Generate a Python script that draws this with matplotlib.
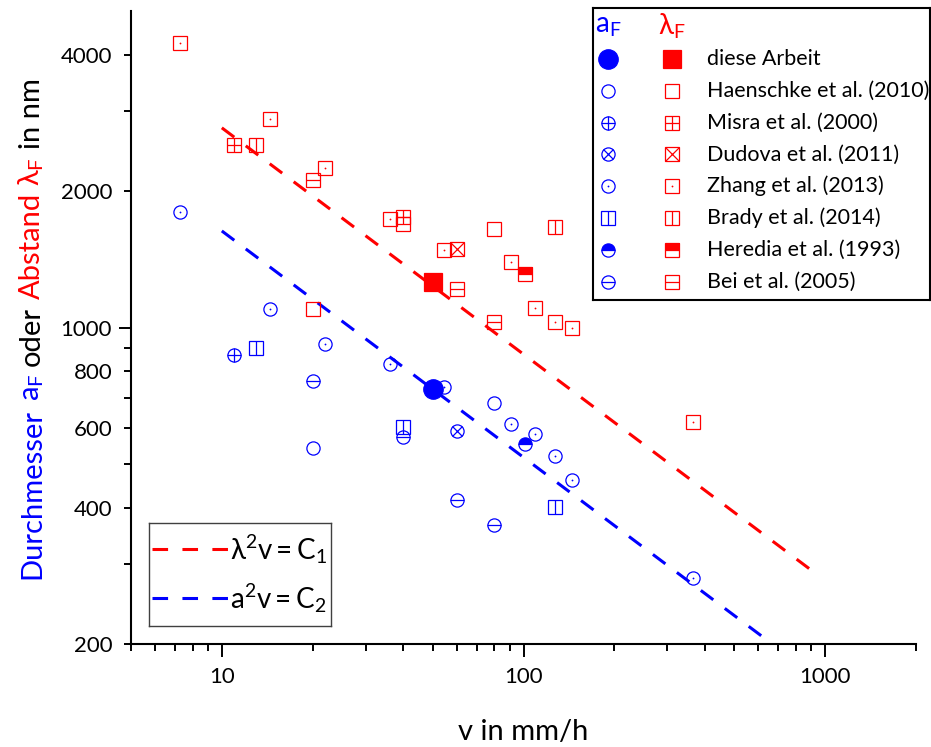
import numpy as np
import matplotlib
matplotlib.use("Agg")
import matplotlib.pyplot as plt
from matplotlib.ticker import FixedLocator, FuncFormatter, NullFormatter
from matplotlib.transforms import IdentityTransform

plt.rcParams["font.family"] = ["Lato", "DejaVu Sans"]
plt.rcParams["mathtext.fontset"] = "custom"
plt.rcParams["mathtext.rm"] = "Lato"
plt.rcParams["mathtext.it"] = "Lato:italic"
plt.rcParams["mathtext.bf"] = "Lato:bold"

BLUE = "#0000ff"
RED = "#ff0000"

# fibre diameter a_F (nm) and spacing lambda_F (nm) over growth rate v (mm/h)
v_a_this, a_this = [50], [730]
v_l_this, l_this = [50], [1260]

v_a_haenschke, a_haenschke = [20, 80], [541, 680]
v_l_haenschke, l_haenschke = [20, 40, 80], [1100, 1690, 1650]

v_a_misra, a_misra = [11], [870]
v_l_misra, l_misra = [11, 40], [2535, 1750]

v_a_dudova, a_dudova = [60], [590]
v_l_dudova, l_dudova = [60], [1493]

v_a_zhang = [7.25, 14.5, 22, 36, 54.5, 91, 109, 127, 145, 364]
a_zhang = [1800, 1100, 920, 830, 740, 611, 581, 521, 461, 280]
v_l_zhang = [7.25, 14.5, 22, 36, 54.5, 91, 109, 127, 145, 364]
l_zhang = [4250, 2890, 2250, 1740, 1485, 1396, 1107, 1030, 1000, 617]

v_a_brady, a_brady = [13, 40, 127], [900, 602, 401]
v_l_brady, l_brady = [13, 127], [2535, 1666]

v_a_heredia, a_heredia = [101], [552]
v_l_heredia, l_heredia = [101], [1311]

v_a_bei, a_bei = [20, 40, 60, 80], [763, 574, 417, 366]
v_l_bei, l_bei = [20, 60, 80], [2120, 1215, 1030]

# scaling laws lambda^2 v = C1 and a^2 v = C2 (nm^2 mm/h)
C1 = 7.62e7
C2 = 2.67e7
v_range_l = [10, 900]
v_range_a = [10, 1000]

# label, marker kind, shape for a_F (lambda_F always uses squares)
series = [
    ("diese Arbeit", "filled", "o", v_a_this, a_this, v_l_this, l_this),
    ("Haenschke et al. (2010)", "open", "o", v_a_haenschke, a_haenschke, v_l_haenschke, l_haenschke),
    ("Misra et al. (2000)", "plus", "o", v_a_misra, a_misra, v_l_misra, l_misra),
    ("Dudova et al. (2011)", "cross", "o", v_a_dudova, a_dudova, v_l_dudova, l_dudova),
    ("Zhang et al. (2013)", "dot", "o", v_a_zhang, a_zhang, v_l_zhang, l_zhang),
    ("Brady et al. (2014)", "vline", "s", v_a_brady, a_brady, v_l_brady, l_brady),
    ("Heredia et al. (1993)", "half", "o", v_a_heredia, a_heredia, v_l_heredia, l_heredia),
    ("Bei et al. (2005)", "hline", "o", v_a_bei, a_bei, v_l_bei, l_bei),
]


def draw_marker(ax, x, y, kind, shape, color, ms=9.5, mew=0.9, zorder=3):
    """Overlay simple markers to build the decorated symbols."""
    common = dict(ls="none", mec=color, mew=mew, zorder=zorder, clip_on=False)
    if kind == "filled":
        big = 14 if shape == "o" else 13
        ax.plot(x, y, marker=shape, ms=big, mfc=color, **common)
        return
    if kind == "half":
        ax.plot(x, y, marker=shape, ms=ms, mfc=color, mfcalt="white",
                fillstyle="top", **common)
        return
    ax.plot(x, y, marker=shape, ms=ms, mfc="none", **common)
    inner = 1.0 if shape == "s" else 0.72
    if kind == "plus":
        ax.plot(x, y, marker="+", ms=ms, **common)
    elif kind == "cross":
        ax.plot(x, y, marker="x", ms=ms * inner, **common)
    elif kind == "dot":
        ax.plot(x, y, marker="o", ms=1.3, mfc=color, ls="none", mew=0,
                zorder=zorder, clip_on=False)
    elif kind == "vline":
        ax.plot(x, y, marker="|", ms=ms, **common)
    elif kind == "hline":
        ax.plot(x, y, marker="_", ms=ms, **common)


W, H = 931, 747
fig = plt.figure(figsize=(W / 100, H / 100), dpi=100)
ax = fig.add_axes([131 / W, 1 - 644 / H, (916 - 131) / W, (644 - 11) / H])

dash = (0, (5.1, 4.7))
v_l = np.array(v_range_l, dtype=float)
v_a = np.array(v_range_a, dtype=float)
ax.plot(v_l, np.sqrt(C1 / v_l), color=RED, lw=2.2, ls=dash, zorder=2)
ax.plot(v_a, np.sqrt(C2 / v_a), color=BLUE, lw=2.2, ls=dash, zorder=2)

for label, kind, circ, va_, a_, vl_, l_ in series:
    draw_marker(ax, vl_, l_, kind, "s", RED)
    draw_marker(ax, va_, a_, kind, circ, BLUE)

ax.set_xscale("log")
ax.set_yscale("log")
ax.set_xlim(5, 2000)
ax.set_ylim(200, 5000)

for side in ("top", "right"):
    ax.spines[side].set_visible(False)
for side in ("left", "bottom"):
    ax.spines[side].set_linewidth(1.5)

ax.xaxis.set_major_locator(FixedLocator([10, 100, 1000]))
ax.xaxis.set_major_formatter(FuncFormatter(lambda v, p: f"{v:g}"))
x_minor = [5, 6, 7, 8, 9, 20, 30, 40, 50, 60, 70, 80, 90,
           200, 300, 400, 500, 600, 700, 800, 900, 2000]
ax.xaxis.set_minor_locator(FixedLocator(x_minor))
ax.xaxis.set_minor_formatter(NullFormatter())

y_labelled = [200, 400, 600, 800, 2000, 4000]
ax.yaxis.set_major_locator(FixedLocator([1000]))
ax.yaxis.set_major_formatter(FuncFormatter(lambda v, p: f"{v:g}"))
ax.yaxis.set_minor_locator(FixedLocator([200, 300, 400, 500, 600, 700, 800,
                                         900, 2000, 3000, 4000]))
ax.yaxis.set_minor_formatter(
    FuncFormatter(lambda v, p: f"{v:g}" if round(v) in y_labelled else ""))

ax.tick_params(axis="both", which="both", direction="out", width=1.4,
               labelsize=16, colors="black")
ax.tick_params(axis="x", which="major", length=9, pad=7.5)
ax.tick_params(axis="x", which="minor", length=5)
ax.tick_params(axis="y", which="major", length=9, pad=4.7)
ax.tick_params(axis="y", which="minor", length=5, pad=8.5, labelsize=16)

ax.set_xlabel("v in mm/h", fontsize=21)
ax.xaxis.set_label_coords(0.5, (644 - 740) / 633)
ax.xaxis.label.set_va("baseline")

# legend of the data sets, two marker columns
lax = fig.add_axes([593 / W, 1 - 300 / H, (930 - 593) / W, (300 - 8) / H])
lax.set_xlim(0, 337)
lax.set_ylim(292, 0)
lax.set_xticks([])
lax.set_yticks([])
for sp in lax.spines.values():
    sp.set_linewidth(1.5)
    sp.set_color("black")
lax.text(15, 18, r"$\mathregular{a_F}$", color=BLUE, fontsize=20,
         ha="center", va="center")
lax.text(79, 18, r"$\mathregular{\lambda_F}$", color=RED, fontsize=20,
         ha="center", va="center")
row_y = 51
for label, kind, circ, *_ in series:
    draw_marker(lax, [15], [row_y], kind, circ, BLUE)
    draw_marker(lax, [79], [row_y], kind, "s", RED)
    lax.text(114, row_y, label, fontsize=15.5, ha="left", va="center")
    row_y += 31.8

# legend of the scaling laws
lax2 = fig.add_axes([149 / W, 1 - 626 / H, (331 - 149) / W, (626 - 523) / H])
lax2.set_xlim(0, 182)
lax2.set_ylim(103, 0)
lax2.set_xticks([])
lax2.set_yticks([])
for sp in lax2.spines.values():
    sp.set_linewidth(1.0)
    sp.set_color("#404040")
lax2.plot([2.7, 79], [26, 26], color=RED, lw=2.2, ls=dash)
lax2.plot([2.7, 79], [75, 75], color=BLUE, lw=2.2, ls=dash)
lax2.text(81, 26, r"$\mathregular{\lambda^2v = C_1}$", fontsize=20,
          ha="left", va="center")
lax2.text(81, 75, r"$\mathregular{a^2v = C_2}$", fontsize=20,
          ha="left", va="center")

# y label in mixed colours, built from rotated pieces
renderer = fig.canvas.get_renderer()
pieces = [("Durchmesser", BLUE), (r"$\mathregular{a_F}$", BLUE),
          ("oder", "black"), ("Abstand", RED),
          (r"$\mathregular{\lambda_F}$", RED), ("in nm", "black")]
ylab_size = 21
texts = [fig.text(0, 0, s, color=c, fontsize=ylab_size, rotation=90,
                  rotation_mode="anchor", ha="left", va="baseline",
                  transform=IdentityTransform()) for s, c in pieces]
prop = texts[0].get_fontproperties()
w_gap = renderer.get_text_width_height_descent("a a", prop, ismath=False)[0]
w_tight = renderer.get_text_width_height_descent("aa", prop, ismath=False)[0]
space = w_gap - w_tight
lengths = [t.get_window_extent(renderer).height for t in texts]
total = sum(lengths) + space * (len(texts) - 1)
y_pos = (H - 328.5) - total / 2
for t, length in zip(texts, lengths):
    t.set_position((40, y_pos))
    y_pos += length + space

fig.savefig("out.png", dpi=100)
